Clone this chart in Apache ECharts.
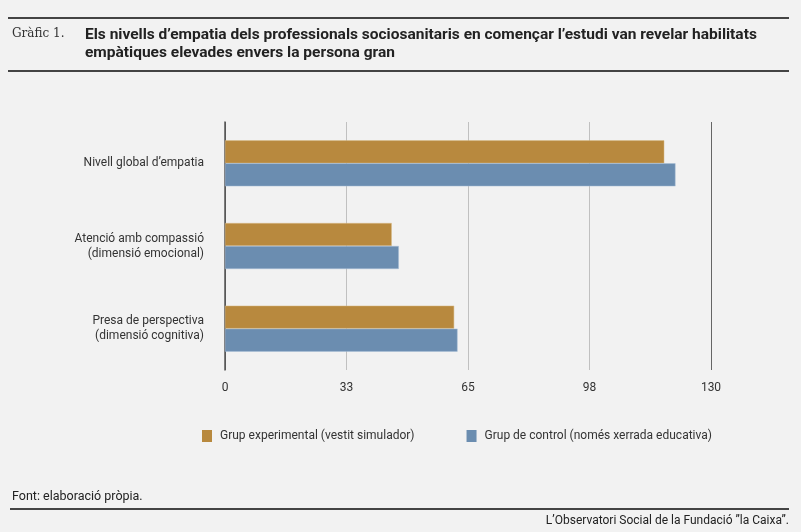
<!DOCTYPE html>
<html>
<head>
<meta charset="utf-8">
<script src="https://cdn.jsdelivr.net/npm/echarts@6/dist/echarts.min.js"></script>
<style>
  html, body { margin: 0; padding: 0; background: #f2f2f2; }
  #chart { width: 801px; height: 532px; }
</style>
</head>
<body>
<div id="chart"></div>
<script>
// categories, top to bottom as drawn
const categories = [
  "Nivell global d’empatia",
  "Atenció amb compassió\n(dimensió emocional)",
  "Presa de perspectiva\n(dimensió cognitiva)"
];
const seriesNames = [
  "Grup experimental (vestit simulador)",
  "Grup de control (només xerrada educativa)"
];
const experimental = [117.5, 44.6, 61.3];
const control = [120.5, 46.5, 62.2];
const axisMax = 130;
const axisStep = 32.5;

const chart = echarts.init(document.getElementById("chart"));

const option = {
  backgroundColor: "#f2f2f2",
  animation: false,
  textStyle: { fontFamily: "Roboto" },
  grid: { left: 225, right: 90, top: 122, bottom: 162 },
  legend: {
    left: 197,
    top: 425,
    itemWidth: 10,
    itemHeight: 12,
    itemGap: 52,
    icon: "rect",
    itemStyle: { borderWidth: 0 },
    textStyle: { fontSize: 12, color: "#333", padding: [0, 0, 0, 3] },
    data: seriesNames
  },
  xAxis: {
    type: "value",
    min: 0,
    max: axisMax,
    interval: axisStep,
    axisLine: { show: false },
    axisTick: { show: false },
    axisLabel: {
      color: "#333",
      fontSize: 12,
      margin: 12,
      formatter: (v) => Math.round(v)
    },
    splitLine: {
      lineStyle: {
        color: ["#666", "#c0c0c0", "#c0c0c0", "#c0c0c0", "#666"],
        width: 1
      }
    }
  },
  yAxis: {
    type: "category",
    inverse: true,
    data: categories,
    axisLine: { show: true, lineStyle: { color: "#555", width: 1.5 } },
    axisTick: { show: false },
    axisLabel: {
      color: "#333",
      fontSize: 12,
      lineHeight: 15,
      margin: 21,
      align: "right"
    }
  },
  series: [
    {
      name: seriesNames[0],
      type: "bar",
      data: experimental,
      barWidth: 23,
      barGap: "0%",
      itemStyle: { color: "#b8893e", borderColor: "#d8bc88", borderWidth: 0.5 }
    },
    {
      name: seriesNames[1],
      type: "bar",
      data: control,
      barWidth: 23,
      itemStyle: { color: "#6b8db0", borderColor: "#a9bfd6", borderWidth: 0.5 }
    }
  ],
  graphic: [
    { type: "rect", shape: { x: 8, y: 17, width: 781, height: 2 }, style: { fill: "#444" } },
    { type: "rect", shape: { x: 8, y: 70, width: 781, height: 2 }, style: { fill: "#444" } },
    {
      type: "text", left: 12, top: 28,
      style: { text: "Gràfic 1.", font: "12px 'DejaVu Serif'", fill: "#333" }
    },
    {
      type: "text", left: 85, top: 26,
      style: {
        text: "Els nivells d’empatia dels professionals sociosanitaris en començar l’estudi van revelar habilitats\nempàtiques elevades envers la persona gran",
        font: "bold 15.5px Roboto",
        lineHeight: 18,
        fill: "#222"
      }
    },
    {
      type: "text", left: 12, top: 490,
      style: { text: "Font: elaboració pròpia.", font: "12.5px Roboto", fill: "#222" }
    },
    { type: "rect", shape: { x: 10, y: 508, width: 779, height: 2 }, style: { fill: "#444" } },
    {
      type: "text", right: 12, top: 515,
      style: { text: "L’Observatori Social de la Fundació ”la Caixa”.", font: "12px Roboto", fill: "#222" }
    }
  ]
};

chart.setOption(option);
</script>
</body>
</html>
